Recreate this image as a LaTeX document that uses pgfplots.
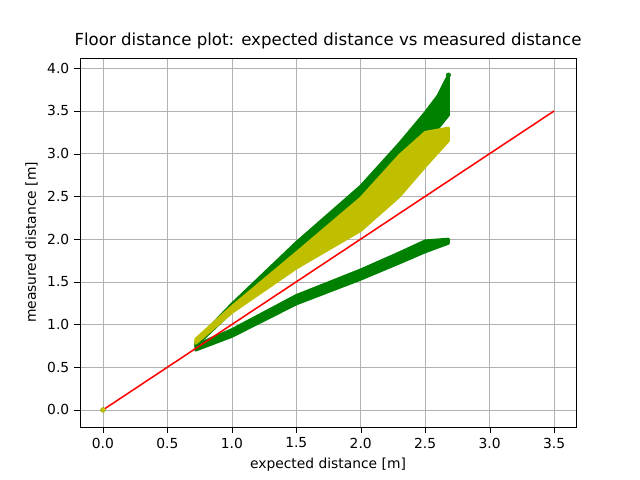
\documentclass[border=0pt]{standalone}
\usepackage{pgfplots}
\pgfplotsset{compat=1.18}
\usepackage{fontspec}
\setmainfont{DejaVu Sans}
\definecolor{mg}{HTML}{008000}
\definecolor{my}{HTML}{BFBF00}
\begin{document}
\begin{tikzpicture}
\path (-0.8in,-0.53in) rectangle (5.6in,4.27in);
\begin{axis}[at={(0,0)},anchor=south west,scale only axis,width=4.96in,height=3.69in,
xmin=-0.178,xmax=3.67,ymin=-0.2,ymax=4.12,
xtick={0,0.5,...,3.5},ytick={0,0.5,...,4},
xticklabels={0.0,0.5,1.0,1.5,2.0,2.5,3.0,3.5},
yticklabels={0.0,0.5,1.0,1.5,2.0,2.5,3.0,3.5,4.0},
grid=major,grid style={gray!60},
tick style={black},tick align=outside,
xtick pos=left,ytick pos=left,
ticklabel style={font=\fontsize{10}{12}\selectfont},
/pgf/number format/assume math mode=true,
label style={font=\fontsize{10}{12}\selectfont},
xlabel={expected distance [m]},ylabel={measured distance [m]},
title={Floor distance plot: expected distance vs measured distance},
title style={font=\fontsize{12}{14}\selectfont,yshift=-3pt},
]
% lower green band
\addplot[fill=mg,draw=mg,line width=2pt,line join=round] coordinates {
(0.72,0.70)(1.0,0.86)(1.5,1.24)(2.0,1.53)(2.3,1.72)(2.5,1.85)(2.68,1.95)
(2.68,2.0)(2.5,1.98)(2.3,1.84)(2.0,1.64)(1.5,1.34)(1.0,0.94)(0.72,0.76)} -- cycle;
% upper green band
\addplot[fill=mg,draw=mg,line width=2pt,line join=round] coordinates {
(0.72,0.75)(1.0,1.15)(1.5,1.82)(2.0,2.42)(2.3,2.85)(2.5,3.15)(2.6,3.30)(2.68,3.45)
(2.68,3.92)(2.6,3.68)(2.5,3.48)(2.3,3.12)(2.0,2.62)(1.5,1.96)(1.0,1.24)(0.72,0.80)} -- cycle;
% yellow band
\addplot[fill=my,draw=my,line width=2pt,line join=round] coordinates {
(0.72,0.78)(1.0,1.14)(1.5,1.66)(2.0,2.10)(2.3,2.50)(2.5,2.85)(2.68,3.15)
(2.68,3.30)(2.5,3.25)(2.3,2.98)(2.0,2.48)(1.5,1.84)(1.0,1.21)(0.72,0.83)} -- cycle;
\addplot[only marks,mark=*,mark size=1.6pt,color=mg] coordinates {(2.68,3.92)(0,0)};
\addplot[only marks,mark=*,mark size=1.6pt,color=my] coordinates {(0,0)};
\addplot[red,line width=1.1pt] coordinates {(0,0)(3.5,3.5)};
\end{axis}
\end{tikzpicture}
\end{document}
